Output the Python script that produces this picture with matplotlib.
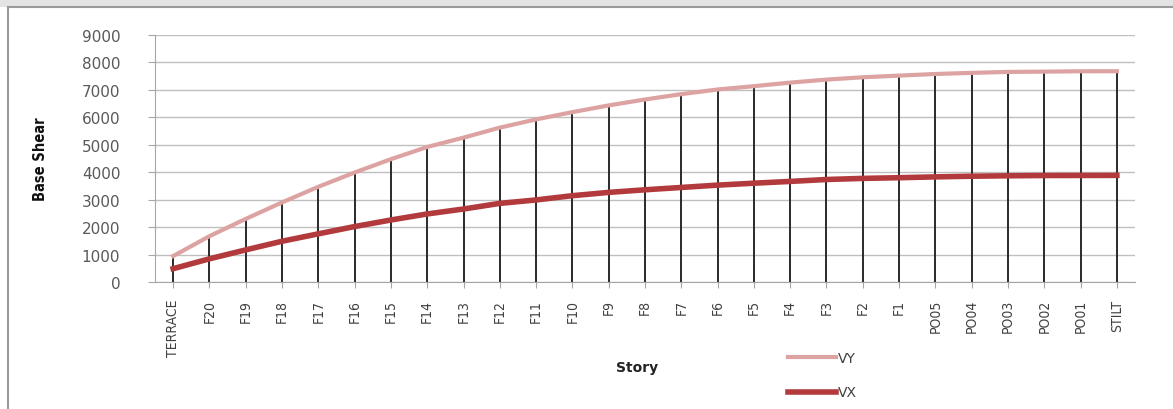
import numpy as np
import matplotlib.pyplot as plt
from matplotlib.lines import Line2D
from matplotlib.patches import Rectangle

# story labels, top to bottom
stories = ['TERRACE', 'F20', 'F19', 'F18', 'F17', 'F16', 'F15', 'F14', 'F13',
           'F12', 'F11', 'F10', 'F9', 'F8', 'F7', 'F6', 'F5', 'F4', 'F3', 'F2',
           'F1', 'PO05', 'PO04', 'PO03', 'PO02', 'PO01', 'STILT']

vy = [945, 1670, 2300, 2900, 3470, 3990, 4475, 4920, 5260,
      5625, 5925, 6190, 6435, 6650, 6845, 7015, 7135, 7265, 7375, 7460,
      7520, 7580, 7620, 7655, 7665, 7678, 7680]

vx = [485, 845, 1170, 1485, 1755, 2020, 2260, 2480, 2660,
      2865, 2990, 3145, 3265, 3360, 3445, 3530, 3600, 3665, 3735, 3775,
      3800, 3830, 3855, 3870, 3880, 3882, 3885]

yticks = [0, 1000, 2000, 3000, 4000, 5000, 6000, 7000, 8000, 9000]

col_vy = '#DDA3A2'
col_vx = '#B23A3C'
gris = '#A6A6A6'

fig = plt.figure(figsize=(11.73, 4.10), dpi=100)

# bordure grise du cadre (haut + gauche)
fig.patches.append(Rectangle((0, 1 - 8/410), 1, 8/410, transform=fig.transFigure,
                             facecolor='#E4E4E4', edgecolor='none'))
fig.add_artist(Line2D([8/1173, 1], [1 - 8/410, 1 - 8/410], transform=fig.transFigure,
                      color='#9A9A9A', lw=1.5))
fig.add_artist(Line2D([8/1173, 8/1173], [0, 1 - 8/410], transform=fig.transFigure,
                      color='#9A9A9A', lw=1.5))

ax = fig.add_axes([155/1173, 1 - 283/410, 980/1173, 247/410])

x = np.arange(len(stories))

# drop lines du point haut jusqu'a l'axe
ax.vlines(x, 0, vy, color='#2A2A2A', lw=1.4, zorder=2)
ax.plot(x, vy, color=col_vy, lw=3, label='VY', zorder=3)
ax.plot(x, vx, color=col_vx, lw=4, label='VX', zorder=3)

ax.set_xlim(-0.5, len(stories) - 0.5)
ax.set_ylim(0, 9000)
ax.set_yticks(yticks)
ax.set_yticklabels([str(v) for v in yticks], fontsize=11, color='#595959')
ax.set_xticks(x)
ax.set_xticklabels(stories, rotation=90, fontsize=10, color='#404040', fontstretch='condensed')
ax.tick_params(axis='y', length=5, color=gris, pad=20)
ax.tick_params(axis='x', length=4, color=gris, pad=8)

ax.grid(axis='y', color='#BFBFBF', lw=1)
ax.set_axisbelow(True)
for s in ['top', 'right']:
    ax.spines[s].set_visible(False)
ax.spines['left'].set_color(gris)
ax.spines['bottom'].set_color(gris)

ax.set_ylabel('Base Shear', fontsize=10.5, fontweight='bold', fontstretch='condensed',
              labelpad=24, color='#111111')
fig.text(637/1173, 1 - 368/410, 'Story', fontsize=10, fontweight='bold',
         color='#222222', ha='center', va='center')

leg = fig.legend(loc='center left', bbox_to_anchor=(775/1173, 1 - 376/410),
                 frameon=False, fontsize=10, handlelength=3.5, handletextpad=0.1,
                 labelspacing=1.5, labelcolor='#404040')

fig.savefig('out.png', dpi=100)
